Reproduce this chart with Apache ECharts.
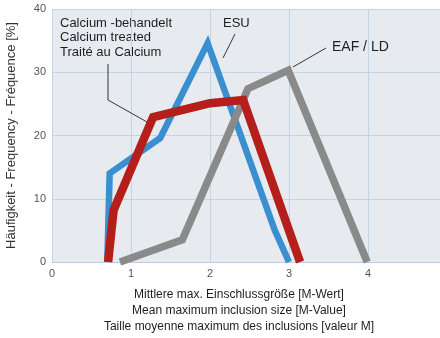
<!DOCTYPE html>
<html><head><meta charset="utf-8">
<script src="https://cdn.jsdelivr.net/npm/echarts@6/dist/echarts.min.js"></script>
<style>html,body{margin:0;padding:0;background:#fff}#c{width:440px;height:338px}</style>
</head><body><div id="c"></div>
<script>
const xTicks = [0, 1, 2, 3, 4];
const yTicks = [0, 10, 20, 30, 40];
const esuData = [[0.70, 0], [0.73, 14], [1.37, 19.6], [1.97, 34.6], [2.82, 5], [3.0, 0]];
const caData = [[0.71, 0], [0.78, 8.2], [1.28, 22.9], [2.0, 25.1], [2.42, 25.6], [3.14, 0]];
const eafData = [[0.86, 0], [1.65, 3.5], [2.48, 27.4], [2.99, 30.3], [3.99, 0]];
const seriesNames = ['ESU', 'Calcium-behandelt', 'EAF / LD'];

const FONT = '"Liberation Sans", Arial, sans-serif';
const chart = echarts.init(document.getElementById('c'));
const lineSeries = (name, data, color, width, z) => ({
  name, type: 'line', data, symbol: 'none', z,
  lineStyle: { color, width, join: 'miter', cap: 'butt' }
});
chart.setOption({
  animation: false,
  backgroundColor: '#fff',
  grid: { left: 52, top: 9, height: 253, right: -7, containLabel: false, outerBoundsMode: 'none',
    show: true, backgroundColor: '#e7ebef', borderWidth: 0 },
  xAxis: {
    type: 'value', min: 0, max: 5, interval: 1,
    axisLine: { show: true, lineStyle: { color: '#b9cde2', width: 1 } },
    axisTick: { show: false },
    axisLabel: { color: '#555', fontFamily: FONT, fontSize: 11, margin: 6,
      formatter: v => xTicks.includes(v) ? String(v) : '' },
    splitLine: { show: true, lineStyle: { color: '#c3d4e6', width: 1 } }
  },
  yAxis: {
    type: 'value', min: 0, max: 40, interval: 10,
    name: 'Häufigkeit - Frequency - Fréquence [%]',
    nameLocation: 'middle', nameGap: 34, nameRotate: 90,
    nameTextStyle: { color: '#333', fontFamily: FONT, fontSize: 13 },
    axisLine: { show: false }, axisTick: { show: false },
    axisLabel: { color: '#555', fontFamily: FONT, fontSize: 11, margin: 6,
      formatter: v => yTicks.includes(v) ? String(v) : '' },
    splitLine: { show: true, lineStyle: { color: '#c3d4e6', width: 1 } }
  },
  series: [
    lineSeries(seriesNames[0], esuData, '#3a8fd0', 6.5, 2),
    lineSeries(seriesNames[2], eafData, '#8a8a8a', 7.5, 3),
    lineSeries(seriesNames[1], caData, '#b51f1b', 8.5, 4)
  ],
  graphic: [
    { type: 'text', left: 60, top: 16, style: { text: 'Calcium -behandelt\nCalcium treated\nTraité au Calcium', fill: '#1e1e1e', font: '13px ' + FONT, lineHeight: 14.5 } },
    { type: 'polyline', shape: { points: [[108, 64], [108, 100], [147, 122]] }, style: { stroke: '#333', lineWidth: 1, fill: null }, z: 10 },
    { type: 'text', left: 223, top: 17, style: { text: 'ESU', fill: '#1e1e1e', font: '13px ' + FONT } },
    { type: 'line', shape: { x1: 235, y1: 34, x2: 223, y2: 58 }, style: { stroke: '#333', lineWidth: 1 }, z: 10 },
    { type: 'text', left: 332, top: 40, style: { text: 'EAF / LD', fill: '#1e1e1e', font: '14px ' + FONT } },
    { type: 'line', shape: { x1: 326, y1: 48, x2: 293, y2: 67 }, style: { stroke: '#333', lineWidth: 1 }, z: 10 },
    { type: 'text', x: 239, y: 295, style: { text: 'Mittlere max. Einschlussgröße [M-Wert]', fill: '#1e1e1e', font: '12px ' + FONT, align: 'center', verticalAlign: 'middle' } },
    { type: 'text', x: 239, y: 311, style: { text: 'Mean maximum inclusion size [M-Value]', fill: '#1e1e1e', font: '12px ' + FONT, align: 'center', verticalAlign: 'middle' } },
    { type: 'text', x: 239, y: 327, style: { text: 'Taille moyenne maximum des inclusions [valeur M]', fill: '#1e1e1e', font: '12px ' + FONT, align: 'center', verticalAlign: 'middle' } }
  ]
});
</script></body></html>
